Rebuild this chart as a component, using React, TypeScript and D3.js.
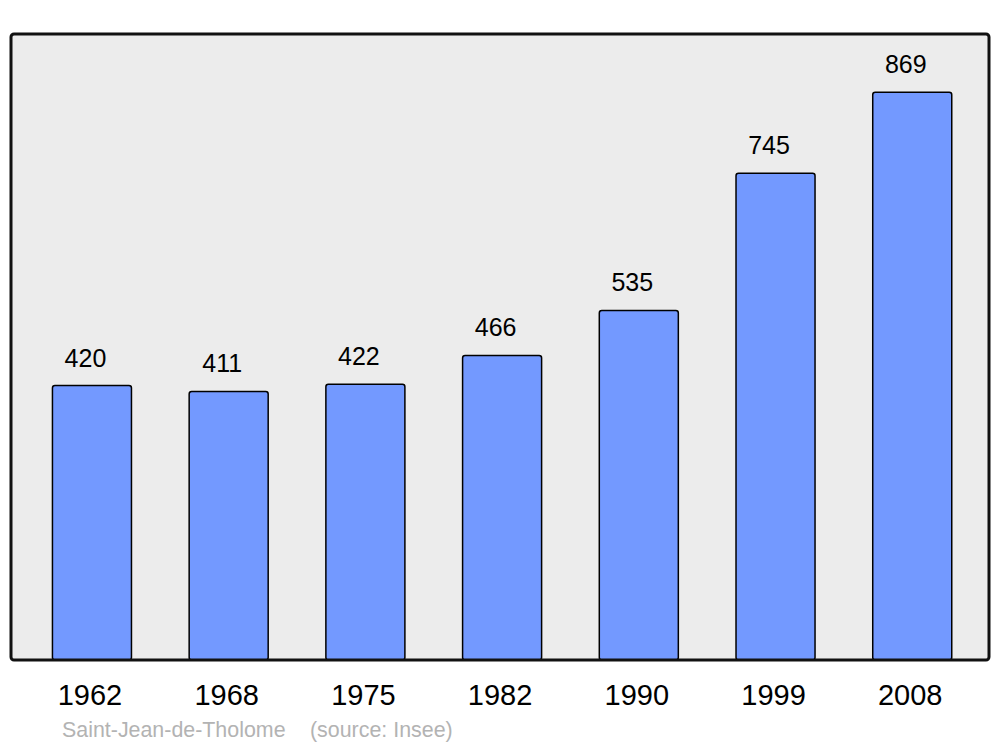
import React from "react";
import * as d3 from "d3";

const years = ["1962", "1968", "1975", "1982", "1990", "1999", "2008"];
const population = [420, 411, 422, 466, 535, 745, 869];
const commune = "Saint-Jean-de-Tholome";
const source = "(source: Insee)";

export default function App() {
  const W = 1000;
  const H = 747;
  const panel = { x: 11, y: 34, w: 978, h: 626 };
  const x = d3.scaleBand<string>().domain(years).range([23.6, 980.6]).padding(0);
  const barW = x.bandwidth() * 0.578;
  const y = d3.scaleLinear().domain([0, 958]).range([panel.y + panel.h, panel.y]);
  const font = "'Liberation Sans', Arial, sans-serif";

  return (
    <svg width={W} height={H} style={{ position: "absolute", left: 0, top: 0 }} fontFamily={font}>
      <rect x={0} y={0} width={W} height={H} fill="#ffffff" />
      <rect x={panel.x} y={panel.y} width={panel.w} height={panel.h} fill="#ececec" rx={3} />
      {years.map((yr, i) => {
        const cx = (x(yr) as number) + x.bandwidth() / 2;
        const top = y(population[i]);
        return (
          <g key={yr}>
            <rect
              x={cx - barW / 2}
              y={top}
              width={barW}
              height={y(0) - top}
              fill="#7399ff"
              stroke="#000"
              strokeWidth={1.5}
              rx={2.5}
            />
            <text x={cx - 6.5} y={top - 19} textAnchor="middle" fontSize={25} fill="#000">
              {population[i]}
            </text>
            <text x={cx - 2} y={705} textAnchor="middle" fontSize={29} fill="#000">
              {yr}
            </text>
          </g>
        );
      })}
      <rect
        x={panel.x}
        y={panel.y}
        width={panel.w}
        height={panel.h}
        fill="none"
        stroke="#111"
        strokeWidth={3}
        rx={3}
      />
      <text x={62} y={737} fontSize={21.4} fill="#b3b3b3">{commune}</text>
      <text x={310} y={737} fontSize={21.4} fill="#b3b3b3">{source}</text>
    </svg>
  );
}
